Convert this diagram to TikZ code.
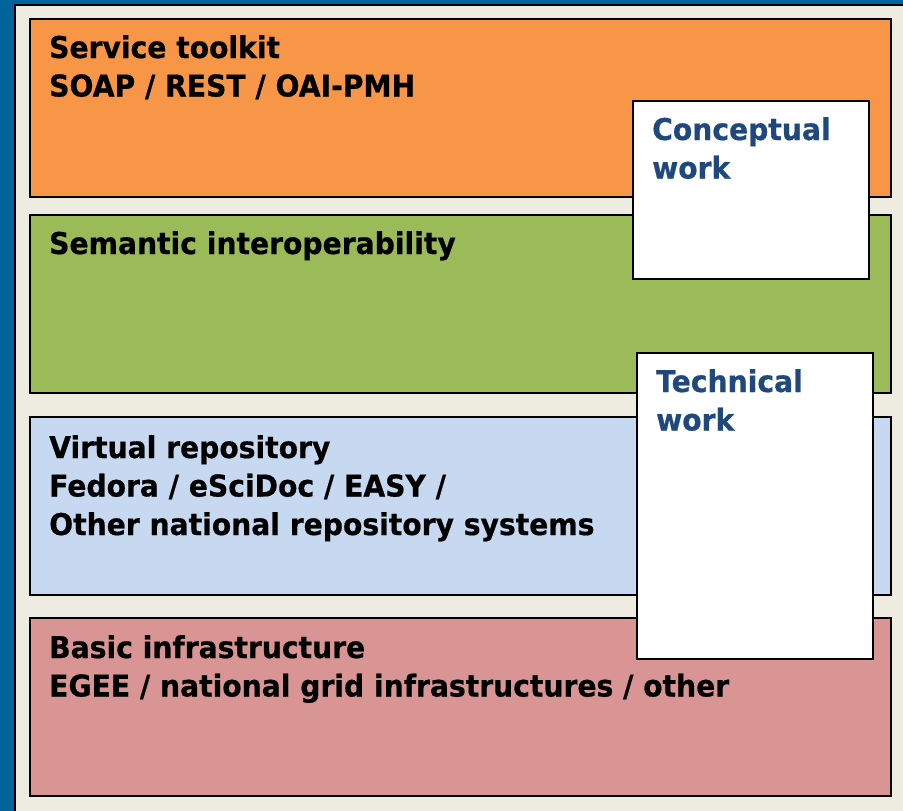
\documentclass[tikz,border=0pt]{standalone}
\usepackage{fontspec}
\setmainfont[FakeStretch=0.94,BoldFeatures={FakeBold=0.6}]{DejaVu Sans}
\usetikzlibrary{positioning}

\definecolor{slideblue}{HTML}{00639B}
\definecolor{slidebeige}{HTML}{EEEBE0}
\definecolor{toolorange}{HTML}{F79646}
\definecolor{semgreen}{HTML}{9BBB59}
\definecolor{repoblue}{HTML}{C6D9F0}
\definecolor{infrared}{HTML}{D99594}
\definecolor{worktext}{HTML}{1F497D}

\begin{document}
\begin{tikzpicture}[x=1pt, y=-1pt, line join=miter,
	layerbox/.style={draw=black, line width=1.6pt, anchor=north west,
		minimum width=861pt, minimum height=178pt, inner sep=0pt},
	workbox/.style={draw=black, line width=1.6pt, fill=white, anchor=north west,
		minimum width=236pt, inner sep=0pt},
	layertext/.style={anchor=base west, inner sep=0pt, align=left,
		font=\bfseries\fontsize{30}{38.5}\selectfont},
	worktext/.style={layertext, text=worktext}]

\useasboundingbox (0,0) rectangle (903,811);

% ===== slide frame =====
\fill[slideblue] (0,0) rectangle (903,811);
\draw[black, line width=2pt, fill=slidebeige] (15,5) rectangle (910,820);

% ===== layers (text anchored at its last baseline) =====
\node[layerbox, fill=toolorange] (toolkit) at (29,18) {};
\node[layertext] (toolkittext) at ([shift={(20,78.5)}]toolkit.north west)
	{Service toolkit\\SOAP / REST / OAI-PMH};

\node[layerbox, fill=semgreen] (semantic) at (29,214) {};
\node[layertext] (semantictext) at ([shift={(20,40)}]semantic.north west)
	{Semantic interoperability};

\node[layerbox, fill=repoblue] (repository) at (29,416) {};
\node[layertext] (repositorytext) at ([shift={(20,119)}]repository.north west)
	{Virtual repository\\Fedora / eSciDoc / EASY /\\Other national repository systems};

\node[layerbox, fill=infrared] (infra) at (29,617) {};
\node[layertext] (infratext) at ([shift={(20,79.5)}]infra.north west)
	{Basic infrastructure\\EGEE / national grid infrastructures / other};

% ===== work boxes =====
\node[workbox, minimum height=178pt] (conceptual) at (632,100) {};
\node[worktext] (conceptualtext) at ([shift={(20,78.5)}]conceptual.north west)
	{Conceptual\\work};

\node[workbox, minimum height=306pt] (technical) at (636,352) {};
\node[worktext] (technicaltext) at ([shift={(20,78.5)}]technical.north west)
	{Technical\\work};

\end{tikzpicture}
\end{document}
